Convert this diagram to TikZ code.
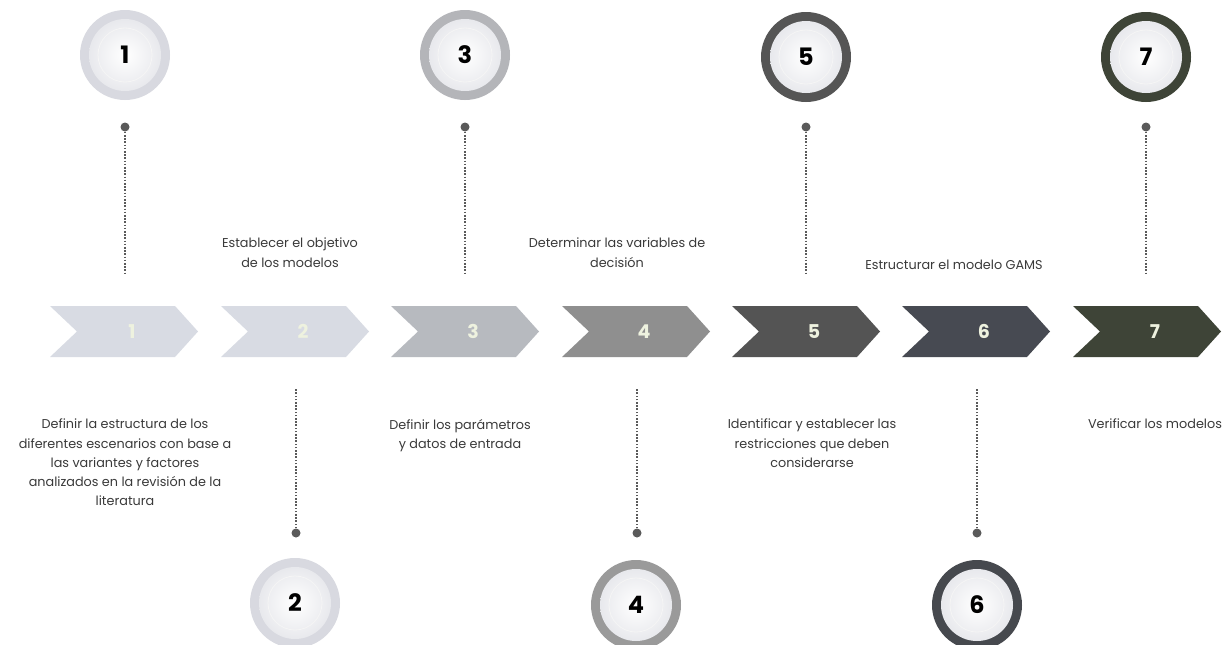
\documentclass[tikz,border=0pt]{standalone}
\usepackage{fontspec}
\setmainfont{Poppins}
\definecolor{ringA}{HTML}{D8D9E0}
\definecolor{ringB}{HTML}{B4B5B9}
\definecolor{ringC}{HTML}{9A9A9A}
\definecolor{ringD}{HTML}{555555}
\definecolor{ringE}{HTML}{46494E}
\definecolor{ringF}{HTML}{3E4437}
\definecolor{chevA}{HTML}{D8DBE3}
\definecolor{chevB}{HTML}{B7BABF}
\definecolor{chevC}{HTML}{8F8F8F}
\definecolor{chevD}{HTML}{545454}
\definecolor{chevE}{HTML}{474A52}
\definecolor{chevF}{HTML}{3E4437}
\definecolor{chevtext}{HTML}{EEF2DF}
\definecolor{dotgray}{HTML}{5A5A5A}
\definecolor{bodytext}{HTML}{3A3A3A}
\definecolor{discedge}{HTML}{E2E3E8}
\begin{document}
\begin{tikzpicture}[x=1pt,y=-1pt,
  badge/.style={circle, inner sep=0pt, minimum size=90pt, fill=#1,
    font=\fontsize{24}{24}\selectfont\bfseries, text=black,
    path picture={
      \shade[inner color=white, outer color=discedge]
        (path picture bounding box.center) circle (36pt);
      \draw[white!92!gray, line width=0.8pt]
        (path picture bounding box.center) circle (27pt);
    }},
  dotmark/.style={circle, fill=dotgray, inner sep=0pt, minimum size=9pt},
  leader/.style={dotgray, line width=1.8pt, dash pattern=on 1.6pt off 1.6pt},
  numtext/.style={font=\fontsize{19}{19}\selectfont\bfseries, text=chevtext},
  desc/.style={font=\fontsize{12.8}{19.2}\selectfont, text=bodytext,
    align=center, inner sep=0pt, anchor=north}
]
\useasboundingbox (0,0) rectangle (1226,645);
\fill[white] (0,0) rectangle (1226,645);

% chevrons along the process line
\foreach \i/\x/\c in {1/50/chevA, 2/221/chevA, 3/391/chevB, 4/562/chevC,
                      5/732/chevD, 6/902/chevE, 7/1073/chevF}{
  \fill[\c] (\x,306) -- (\x+125,306) -- (\x+148,331.5) -- (\x+125,357)
            -- (\x,357) -- (\x+27,331.5) -- cycle;
  \node[numtext] (n\i) at (\x+82,331.5) {\i};
}

% numbered badges, odd steps above and even steps below
\node[badge=ringA] (b1) at (125,55) {1};
\node[badge=ringA] (b2) at (295,603) {2};
\node[badge=ringB] (b3) at (465,55) {3};
\node[badge=ringC] (b4) at (636,605) {4};
\node[badge=ringD] (b5) at (806,57) {5};
\node[badge=ringE] (b6) at (977,605) {6};
\node[badge=ringF] (b7) at (1146,57) {7};

% leader dots and dotted stems
\foreach \i/\x in {1/125, 3/465, 5/806, 7/1146}{
  \node[dotmark] (d\i) at (\x,127) {};
  \coordinate (e\i) at (\x,273);
  \draw[leader] (d\i) -- (e\i);
}
\foreach \i/\x in {2/296, 4/637, 6/977}{
  \node[dotmark] (d\i) at (\x,533) {};
  \coordinate (e\i) at (\x,388);
  \draw[leader] (d\i) -- (e\i);
}

% step descriptions
\node[desc] (t1) at (125,419) {Definir la estructura de los\\diferentes escenarios con base a\\las variantes y factores\\analizados en la revisión de la\\literatura};
\node[desc] (t2) at (290,238) {Establecer el objetivo\\de los modelos};
\node[desc] (t3) at (460,419) {Definir los parámetros\\y datos de entrada};
\node[desc] (t4) at (617,238) {Determinar las variables de\\decisión};
\node[desc] (t5) at (812,419) {Identificar y establecer las\\restricciones que deben\\considerarse};
\node[desc] (t6) at (954,260) {Estructurar el modelo GAMS};
\node[desc] (t7) at (1155,419) {Verificar los modelos};
\end{tikzpicture}
\end{document}
